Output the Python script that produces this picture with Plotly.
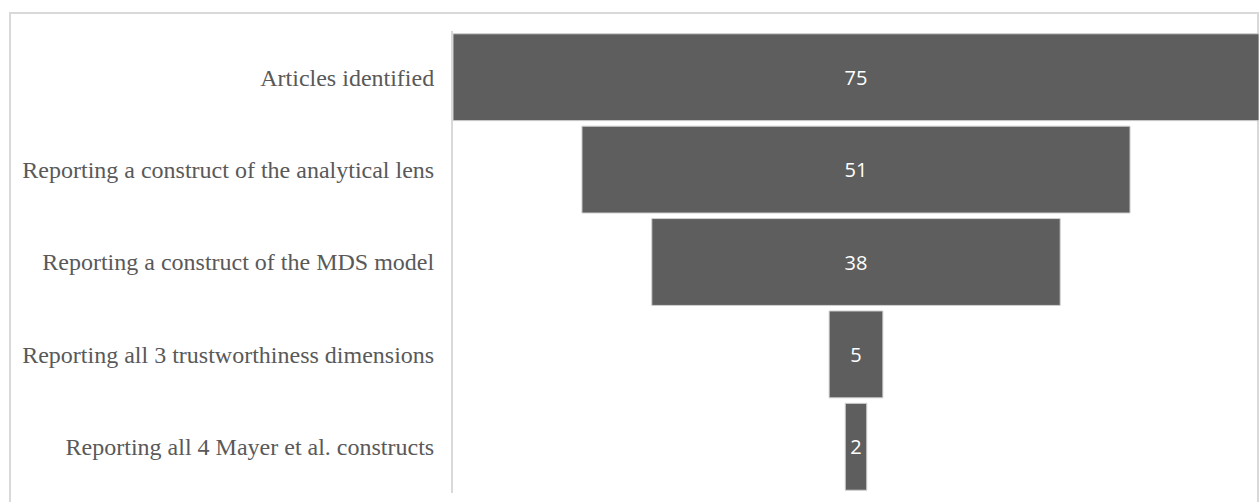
import plotly.graph_objects as go

stages = [
    "Articles identified",
    "Reporting a construct of the analytical lens",
    "Reporting a construct of the MDS model",
    "Reporting all 3 trustworthiness dimensions",
    "Reporting all 4 Mayer et al. constructs",
]
counts = [75, 51, 38, 5, 2]

fig = go.Figure(go.Funnel(
    y=stages,
    x=counts,
    textinfo="value",
    textposition="inside",
    insidetextanchor="middle",
    insidetextfont=dict(family="Open Sans", size=20, color="white"),
    textfont=dict(family="Open Sans", size=20, color="white"),
    marker=dict(color="#5e5e5e", line=dict(color="#d0d0d0", width=1)),
    connector=dict(visible=False),
    constraintext="none",
))

L, T, B = 453, 31, 9
W, H = 1259, 502
pw = W - L
ph = H - T - B

fig.update_layout(
    width=W, height=H,
    margin=dict(l=L, r=0, t=T, b=B),
    paper_bgcolor="white", plot_bgcolor="white",
    funnelgap=0.06,
    showlegend=False,
    uniformtext=dict(minsize=18, mode="show"),
    xaxis=dict(visible=False, range=[-37.5, 37.5], fixedrange=True),
    yaxis=dict(
        showline=True, linecolor="#d9d9d9", linewidth=2,
        showgrid=False, zeroline=False,
        ticklabelstandoff=12,
        tickfont=dict(family="Liberation Serif", size=24, color="#595959"),
    ),
    shapes=[dict(
        type="rect", xref="paper", yref="paper",
        x0=(10 - L) / pw, x1=(1258 - L) / pw,
        y0=-0.2, y1=(H - B - 13) / ph,
        line=dict(color="#d9d9d9", width=2),
        fillcolor="rgba(0,0,0,0)", layer="below",
    )],
)

fig.write_html("out.html")
